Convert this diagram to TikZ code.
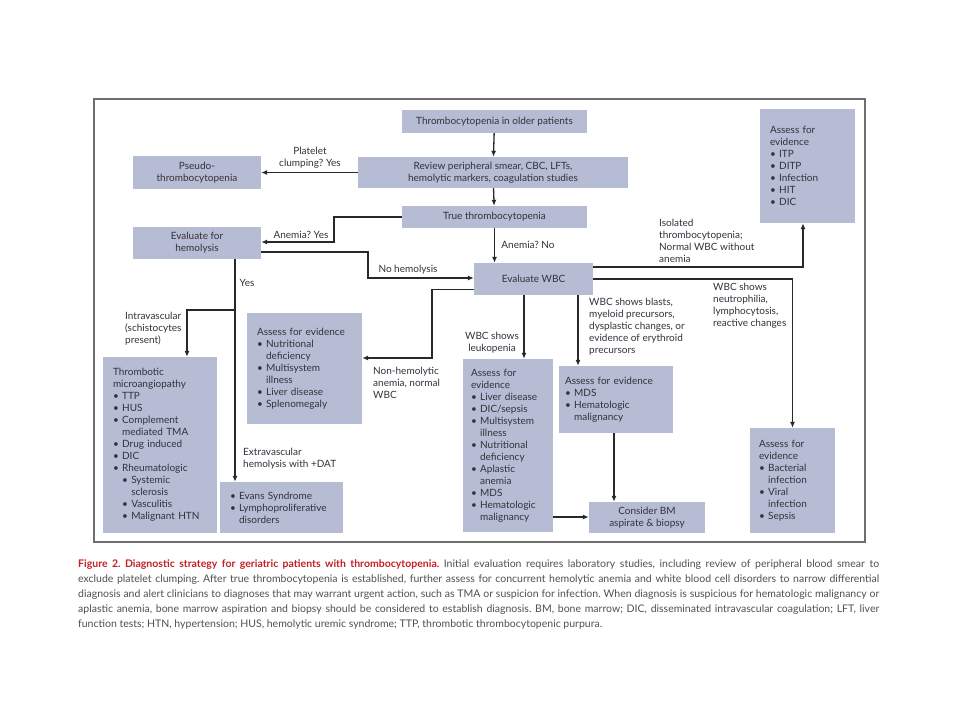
\documentclass[tikz,border=0pt]{standalone}
\usepackage{fontspec}
\setmainfont{Lato}
\usetikzlibrary{arrows.meta,positioning,calc}
\definecolor{boxc}{RGB}{182,188,211}
\definecolor{txtc}{RGB}{50,50,60}
\definecolor{linec}{RGB}{40,40,40}
\definecolor{framec}{RGB}{110,110,110}
\definecolor{capred}{RGB}{196,32,38}
\definecolor{capgray}{RGB}{80,80,80}
\newcommand\bu{\textbullet\ }
\newcommand\ind{\hphantom{\textbullet\ }}
\tikzset{
  box/.style={fill=boxc, draw=none, inner sep=0pt, text=txtc, align=center,
    font=\fontsize{10}{12}\selectfont},
  lbox/.style={box, align=left},
  lbl/.style={inner sep=0pt, text=txtc, font=\fontsize{10}{12}\selectfont},
  arr/.style={draw=linec, line width=1.3pt, -{Latex[length=6pt,width=5pt]}},
  ln/.style={draw=linec, line width=1.3pt},
  capl/.style={inner sep=0pt, anchor=west, text=capgray, font=\fontsize{10.5}{12}\selectfont},
}
\frenchspacing
\begin{document}
\begin{tikzpicture}[x=1pt,y=-1pt]
\useasboundingbox[fill=white] (0,0) rectangle (960,720);
\draw[framec, line width=1.3pt] (94,99) rectangle (865,542);

% main column
\node[box, minimum width=185pt, minimum height=23pt] (n1) at (494.5,121.5) {Thrombocytopenia in older patients};
\node[box, minimum width=270pt, minimum height=31pt] (n2) at (493,172.5) {Review peripheral smear, CBC, LFTs,\\hemolytic markers, coagulation studies};
\node[box, minimum width=185pt, minimum height=22pt] (n3) at (494.5,217) {True thrombocytopenia};
\node[box, minimum width=119pt, minimum height=32pt] (wbc) at (533.5,279) {Evaluate WBC};

\node[box, minimum width=128pt, minimum height=33pt] (pseudo) at (197,172.5) {Pseudo-\\thrombocytopenia};
\node[box, minimum width=128pt, minimum height=32pt] (hemo) at (197,243) {Evaluate for\\hemolysis};

\node[lbox, minimum width=95pt, minimum height=114pt, text width=75pt] (itp) at (807.5,166)
 {Assess for\\evidence\\\bu ITP\\\bu DITP\\\bu Infection\\\bu HIT\\\bu DIC};

\node[lbox, minimum width=114pt, minimum height=176pt, text width=94pt] (tma) at (160,445)
 {Thrombotic\\microangiopathy\\\bu TTP\\\bu HUS\\\bu Complement\\\ind mediated TMA\\\bu Drug induced\\\bu DIC\\\bu Rheumatologic\\\ind\bu Systemic\\\ind\ind sclerosis\\\ind\bu Vasculitis\\\ind\bu Malignant HTN};

\node[lbox, minimum width=115pt, minimum height=111pt, text width=95pt] (nutr) at (304.5,368.5)
 {Assess for evidence\\\bu Nutritional\\\ind deficiency\\\bu Multisystem\\\ind illness\\\bu Liver disease\\\bu Splenomegaly};

\node[lbox, minimum width=123pt, minimum height=51pt, text width=103pt] (evans) at (281.5,507.5)
 {\bu Evans Syndrome\\\bu Lymphoproliferative\\\ind disorders};

\node[lbox, minimum width=90pt, minimum height=173pt, text width=74pt] (leuk) at (508,445.5)
 {Assess for\\evidence\\\bu Liver disease\\\bu DIC/sepsis\\\bu Multisystem\\\ind illness\\\bu Nutritional\\\ind deficiency\\\bu Aplastic\\\ind anemia\\\bu MDS\\\bu Hematologic\\\ind malignancy};

\node[lbox, minimum width=114pt, minimum height=67pt, text width=102pt] (mds) at (616,399.5)
 {Assess for evidence\\\bu MDS\\\bu Hematologic\\\ind malignancy};

\node[box, minimum width=116pt, minimum height=31pt] (bm) at (647,517.5) {Consider BM\\aspirate \& biopsy};

\node[lbox, minimum width=85pt, minimum height=105pt, text width=67pt] (bact) at (792.5,480.5)
 {Assess for\\evidence\\\bu Bacterial\\\ind infection\\\bu Viral\\\ind infection\\\bu Sepsis};

% connectors
\draw[arr] (n1) -- (n2);
\draw[arr] (n2) -- (n3);
\draw[arr] (n3) -- (n3.south |- wbc.north);
\draw[arr] (n2.west) -- (pseudo.east |- n2.west);
\draw[arr] (n3.west) -| (334,242) -- (hemo.east |- 0,242);
\draw[arr] ([yshift=-9pt]hemo.east) -| (368,278) -- (wbc.west |- 0,278);
\draw[arr] ([xshift=38pt]hemo.south) -- ([xshift=38pt]hemo.south |- evans.north);
\draw[arr] (235,310) -| ([xshift=27pt]tma.north);
\draw[arr] ([yshift=-10.5pt]wbc.west) -| (432,358) -- (nutr.east |- 0,358);
\draw[arr] ([yshift=12pt]wbc.east) -| (803,0 |- itp.south);
\draw[arr] (wbc.east) -| (bact.north);
\draw[arr] ([xshift=-9.5pt]wbc.south) -- ([xshift=-9.5pt]wbc.south |- leuk.north);
\draw[arr] ([xshift=44.5pt]wbc.south) -- ([xshift=44.5pt]wbc.south |- mds.north);
\draw[arr] ([xshift=-2pt]mds.south) -- ([xshift=-2pt]mds.south |- bm.north);
\draw[arr] (leuk.east |- 0,517) -- (bm.west |- 0,517);

% labels
\node[lbl, align=center] (l1) at (310,158) {Platelet\\clumping? Yes};
\node[lbl] (l2) at (301,235) {Anemia? Yes};
\node[lbl] (l3) at (408,270) {No hemolysis};
\node[lbl] (l4) at (528,245) {Anemia? No};
\node[lbl] (l5) at (247,283) {Yes};
\node[lbl, align=left, anchor=west] (l6) at (125,329) {Intravascular\\(schistocytes\\present)};
\node[lbl, align=left, anchor=west] (l7) at (243,459) {Extravascular\\hemolysis with +DAT};
\node[lbl, align=left, anchor=west] (l8) at (373,383) {Non-hemolytic\\anemia, normal\\WBC};
\node[lbl, align=center] (l9) at (492,343) {WBC shows\\leukopenia};
\node[lbl, align=left, anchor=west] (l10) at (589,327) {WBC shows blasts,\\myeloid precursors,\\dysplastic changes, or\\evidence of erythroid\\precursors};
\node[lbl, align=left, anchor=west] (l11) at (713,306) {WBC shows\\neutrophilia,\\lymphocytosis,\\reactive changes};
\node[lbl, align=left, anchor=west] (l12) at (659,240.5) {Isolated\\thrombocytopenia;\\Normal WBC without\\anemia};

% caption
\node[capl] (c1) at (78,565) {\makebox[801pt][s]{\textcolor{capred}{\bfseries Figure 2. Diagnostic strategy for geriatric patients with thrombocytopenia.} Initial evaluation requires laboratory studies, including review of peripheral blood smear to}};
\node[capl] (c2) at (78,580) {\makebox[801pt][s]{exclude platelet clumping. After true thrombocytopenia is established, further assess for concurrent hemolytic anemia and white blood cell disorders to narrow differential}};
\node[capl] (c3) at (78,595) {\makebox[801pt][s]{diagnosis and alert clinicians to diagnoses that may warrant urgent action, such as TMA or suspicion for infection. When diagnosis is suspicious for hematologic malignancy or}};
\node[capl] (c4) at (78,610) {\makebox[801pt][s]{aplastic anemia, bone marrow aspiration and biopsy should be considered to establish diagnosis. BM, bone marrow; DIC, disseminated intravascular coagulation; LFT, liver}};
\node[capl] (c5) at (78,625) {function tests; HTN, hypertension; HUS, hemolytic uremic syndrome; TTP, thrombotic thrombocytopenic purpura.};
\end{tikzpicture}
\end{document}
